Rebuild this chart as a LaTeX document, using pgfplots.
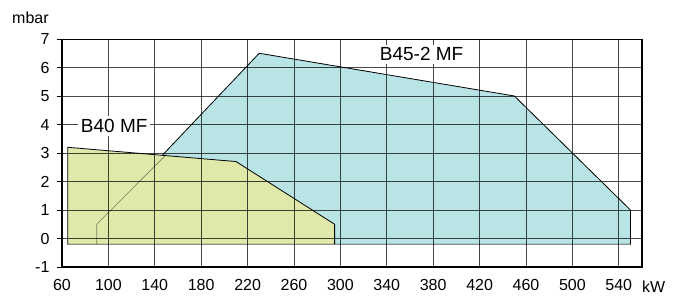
\documentclass[border=0pt]{standalone}
\usepackage{pgfplots}
\pgfplotsset{compat=1.18}
\usepackage{fontspec}
\setmainfont{Liberation Sans}
\definecolor{yfill}{RGB}{225,233,170}
\definecolor{tfill}{RGB}{184,228,230}
\begin{document}
\begin{tikzpicture}
\path[use as bounding box] (-62pt,-30pt) rectangle (612pt,267pt);
\begin{axis}[
  at={(0,0)}, anchor=south west,
  scale only axis, width=580pt, height=228pt,
  xmin=60, xmax=560, ymin=-1, ymax=7,
  xtick={60,100,...,540}, ytick={-1,0,...,7},
  ytick pos=left,
  grid=major,
  grid style={black, opacity=0.72, line width=0.8pt},
  axis line style={black, line width=0.6pt},
  axis on top,
  tick align=outside,
  major tick length=5pt,
  xtick style={draw=none},
  ytick style={black, line width=0.8pt},
  tick label style={font=\fontsize{16}{18}\selectfont},
  /pgf/number format/assume math mode=true,
  xticklabel style={yshift=-4pt},
  yticklabel style={xshift=-4pt},
  clip=false,
]
\addplot[fill=tfill, draw=black, line width=0.8pt] coordinates {
  (90,-0.2) (90,0.5) (230,6.5) (450,5.0) (550,1.0) (550,-0.2)} -- cycle;
\addplot[fill=yfill, draw=black, line width=0.8pt] coordinates {
  (65,-0.2) (65,3.2) (210,2.7) (295,0.5) (295,-0.2)} -- cycle;
\addplot[draw=black, opacity=0.45, line width=0.6pt] coordinates {
  (90,-0.2) (90,0.5) (150,2.95)};
\addplot[draw=black!45, line width=1pt] coordinates {(65,-0.2) (550,-0.2)};
\coordinate (b40) at (axis cs:105,3.95);
\coordinate (b45) at (axis cs:370,6.46);
\coordinate (ll) at (rel axis cs:0,0);
\coordinate (lr) at (rel axis cs:1,0);
\coordinate (ul) at (rel axis cs:0,1);
\coordinate (ur) at (rel axis cs:1,1);
\end{axis}
\draw[line width=1.8pt, black] (ul) -- (ll) -- (lr) -- (ur);
\node[fill=white, inner sep=3pt, font=\fontsize{19}{22}\selectfont] at (b40) {B40 MF};
\node[fill=white, inner sep=3pt, font=\fontsize{19}{22}\selectfont] at (b45) {B45-2 MF};
\node[anchor=base west, inner sep=0pt, font=\fontsize{16}{18}\selectfont] at (-50pt,243pt) {mbar};
\node[anchor=base west, inner sep=0pt, font=\fontsize{16}{18}\selectfont] at (580pt,-25pt) {kW};
\end{tikzpicture}
\end{document}
